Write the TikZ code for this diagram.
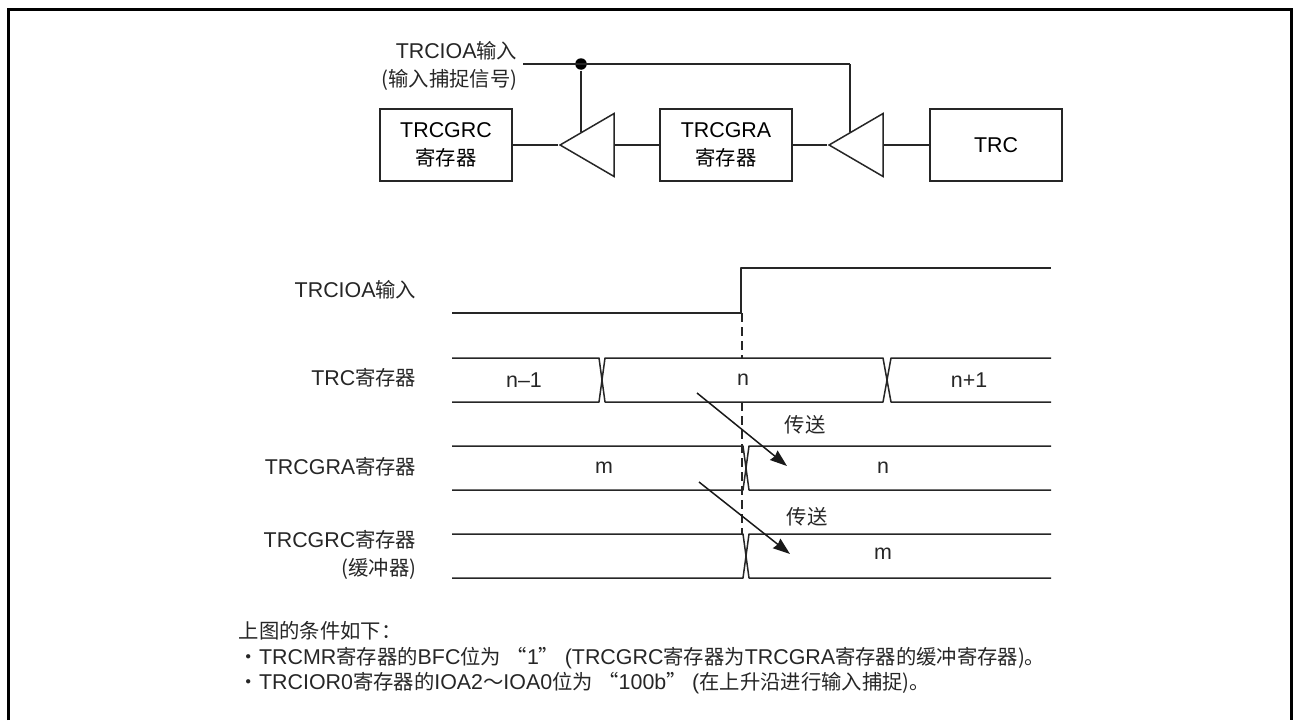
\documentclass[tikz,border=0pt]{standalone}
\usepackage{fontspec}
\setmainfont{Liberation Sans}
\newfontfamily\cjk[Scale=0.95]{Noto Sans CJK SC}
\usetikzlibrary{arrows.meta,calc,shapes.geometric}
\newcommand{\zh}[1]{{\cjk #1}}
\newcommand{\qgap}{\hspace{.26em}}
\begin{document}
\begin{tikzpicture}[
  x=1pt, y=-1pt,
  line width=1.5pt,
  font=\fontsize{21.4}{27.5}\selectfont,
  reg/.style={draw=black!85, fill=white, minimum width=132pt, minimum height=72pt, align=center, inner sep=0pt},
  amp/.style={draw=black!85, fill=white, isosceles triangle, isosceles triangle stretches, shape border rotate=180, minimum width=63pt, minimum height=54pt, inner sep=0pt},
  lab/.style={inner sep=0pt, align=center, text=black!85},
  siglab/.style={lab, anchor=east, align=right},
  wave/.style={draw=black!85, line join=round},
  arr/.style={-{Stealth[length=17pt,width=12pt,inset=1.5pt]}, black!90}
]
\useasboundingbox (0,0) rectangle (1295,720);
\draw[line width=3.3pt] (8.5,720) -- (8.5,9.5) -- (1291.5,9.5) -- (1291.5,720);

% block diagram
\node[reg] (grc) at (446,145) {TRCGRC\\\zh{寄存器}};
\node[reg] (gra) at (726,145) {TRCGRA\\\zh{寄存器}};
\node[reg] (trc) at (996,145) {TRC};
\node[amp] (ampc) at (596,145) {};
\node[amp] (ampa) at (865,145) {};
\node[siglab] (insig) at (518,66) {TRCIOA\zh{输入}\\\zh{(输入捕捉信号)}};
\coordinate (start) at (523,64);
\coordinate (bend) at (850,64);
\node[circle, fill=black, inner sep=0pt, minimum size=11.5pt] (dot) at (581,64) {};

\draw[wave] (grc) -- (ampc.apex);
\draw[wave] (ampc) -- (gra);
\draw[wave] (gra) -- (ampa.apex);
\draw[wave] (ampa) -- (trc);
\draw[wave] (start) -- (bend);
\draw[wave] (dot) -- (dot |- {$(ampc.apex)!.39!(ampc.right corner)$});
\draw[wave] (bend) -- (bend |- {$(ampa.apex)!.39!(ampa.right corner)$});

% timing
\node[siglab] (iolab) at (417,290) {TRCIOA\zh{输入}};
\node[siglab] (trclab) at (417,378) {TRC\zh{寄存器}};
\node[siglab] (gralab) at (417,467) {TRCGRA\zh{寄存器}};
\node[siglab] (grclab) at (417,555) {TRCGRC\zh{寄存器}\\\zh{(缓冲器)}};

\draw[wave] (452,313) -- (741,313) -- (741,268) -- (1051,268);
\draw[wave, dash pattern=on 9pt off 5pt] (742,313) -- (742,358);
\draw[wave, dash pattern=on 9pt off 5pt] (742,402) -- (742,534);

\draw[wave] (452,358) -- (599,358) -- (605,402) -- (883,402) -- (891,358) -- (1051,358);
\draw[wave] (452,402) -- (599,402) -- (605,358) -- (883,358) -- (891,402) -- (1051,402);
\draw[wave] (452,446) -- (743,446) -- (749,490) -- (1051,490);
\draw[wave] (452,490) -- (743,490) -- (749,446) -- (1051,446);
\draw[wave] (452,534) -- (743,534) -- (749,578) -- (1051,578);
\draw[wave] (452,578) -- (743,578) -- (749,534) -- (1051,534);

\node[lab] (nm1) at (524,380) {n--1};
\node[lab] (nn) at (743,380) {n};
\node[lab] (np1) at (969,380) {n+1};
\node[lab] (mold) at (604,468) {m};
\node[lab] (nnew) at (883,468) {n};
\node[lab] (mnew) at (883,554) {m};

\coordinate (xa) at (697,393);
\coordinate (xb) at (787,466);
\coordinate (xc) at (699,482);
\coordinate (xd) at (790,554);
\draw[arr] (xa) -- (xb);
\draw[arr] (xc) -- (xd);
\node[lab] (xfer1) at (805,425) {\zh{传送}};
\node[lab] (xfer2) at (807,517) {\zh{传送}};

% notes
\node[lab, anchor=north west, align=left, font=\fontsize{21.4}{25.7}\selectfont] (notes) at (238,620.5) {\zh{上图的条件如下：}\\
\zh{・}TRCMR\zh{寄存器的}BFC\zh{位为}\qgap\zh{“}1\zh{”}\qgap(TRCGRC\zh{寄存器为}TRCGRA\zh{寄存器的缓冲寄存器)。}\\
\zh{・}TRCIOR0\zh{寄存器的}IOA2\zh{～}IOA0\zh{位为}\qgap\zh{“}100b\zh{”}\qgap(\zh{在上升沿进行输入捕捉)。}};
\end{tikzpicture}
\end{document}
